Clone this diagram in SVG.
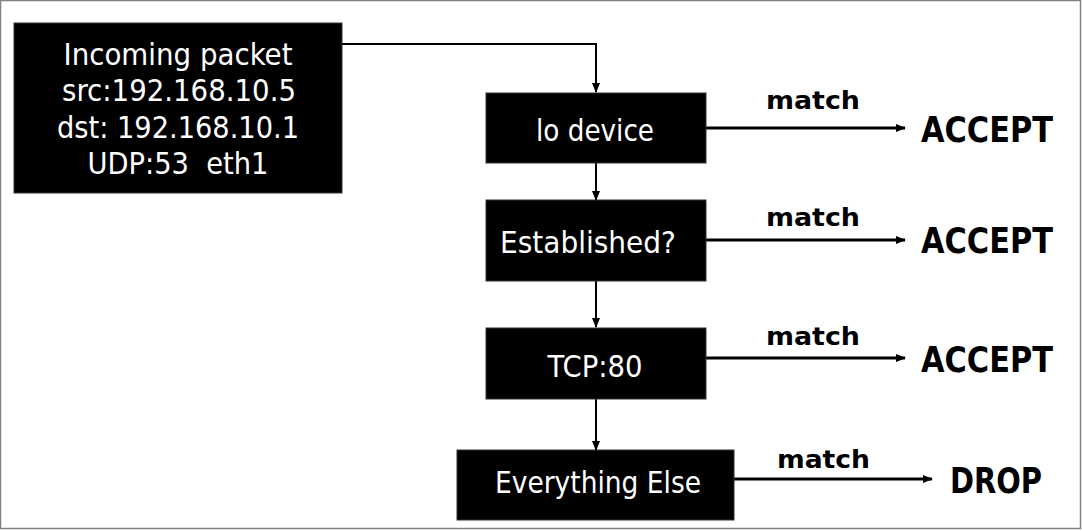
<svg xmlns="http://www.w3.org/2000/svg" width="1082" height="531" viewBox="0 0 1082 531">
<style>
.box{fill:#000;stroke:#333;stroke-width:1}
.nt{fill:#fff;font-family:"DejaVu Sans Condensed","DejaVu Sans",sans-serif;font-size:30px;text-anchor:middle}
.lbl{fill:#000;font-family:"DejaVu Sans Condensed","DejaVu Sans",sans-serif;font-weight:bold;font-size:25px}
.res{fill:#000;font-family:"DejaVu Sans Condensed","DejaVu Sans",sans-serif;font-weight:bold;font-size:35px}
.ln{fill:none;stroke:#000;stroke-width:2}
.lr{fill:none;stroke:#000;stroke-width:3}
</style>
<defs>
<marker id="ah" markerWidth="10" markerHeight="10" refX="9" refY="5" orient="auto" markerUnits="userSpaceOnUse">
<path d="M0,1 L10,5 L0,9 Z" fill="#000"/>
</marker>
</defs>
<rect x="0.5" y="0.5" width="1080" height="528" fill="#fff" stroke="#808080" stroke-width="1.5"/>
<g id="connectors">
<path class="ln" d="M342,44 H596 V92" marker-end="url(#ah)"/>
<path class="ln" d="M596,163 V200" marker-end="url(#ah)"/>
<path class="ln" d="M596,281 V327" marker-end="url(#ah)"/>
<path class="ln" d="M596,399 V450" marker-end="url(#ah)"/>
<path class="lr" d="M706,128 H905" marker-end="url(#ah)"/>
<path class="lr" d="M706,240 H905" marker-end="url(#ah)"/>
<path class="lr" d="M706,358 H905" marker-end="url(#ah)"/>
<path class="lr" d="M734,479 H932" marker-end="url(#ah)"/>
<text class="lbl" x="766" y="109" textLength="94" lengthAdjust="spacingAndGlyphs">match</text>
<text class="lbl" x="766" y="226" textLength="94" lengthAdjust="spacingAndGlyphs">match</text>
<text class="lbl" x="766" y="345" textLength="94" lengthAdjust="spacingAndGlyphs">match</text>
<text class="lbl" x="777" y="468" textLength="93" lengthAdjust="spacingAndGlyphs">match</text>
</g>
<g id="incoming">
<rect class="box" x="14" y="23" width="328" height="170"/>
<text class="nt" x="178" y="65" textLength="229" lengthAdjust="spacingAndGlyphs">Incoming packet</text>
<text class="nt" x="179" y="101" textLength="234" lengthAdjust="spacingAndGlyphs">src:192.168.10.5</text>
<text class="nt" x="178" y="138" textLength="242" lengthAdjust="spacingAndGlyphs">dst: 192.168.10.1</text>
<text class="nt" x="178" y="174" textLength="181" lengthAdjust="spacingAndGlyphs" xml:space="preserve">UDP:53  eth1</text>
</g>
<g id="lo">
<rect class="box" x="486" y="93" width="220" height="70"/>
<text class="nt" x="595" y="141" textLength="118" lengthAdjust="spacingAndGlyphs">lo device</text>
</g>
<g id="established">
<rect class="box" x="486" y="200" width="220" height="81"/>
<text class="nt" x="588" y="253" textLength="176" lengthAdjust="spacingAndGlyphs">Established?</text>
</g>
<g id="tcp">
<rect class="box" x="486" y="328" width="220" height="71"/>
<text class="nt" x="595" y="377" textLength="95" lengthAdjust="spacingAndGlyphs">TCP:80</text>
</g>
<g id="else">
<rect class="box" x="457" y="450" width="277" height="70"/>
<text class="nt" x="598" y="493" textLength="206" lengthAdjust="spacingAndGlyphs">Everything Else</text>
</g>
<g id="accept1"><text class="res" x="921" y="142" textLength="132" lengthAdjust="spacingAndGlyphs">ACCEPT</text></g>
<g id="accept2"><text class="res" x="921" y="253" textLength="132" lengthAdjust="spacingAndGlyphs">ACCEPT</text></g>
<g id="accept3"><text class="res" x="921" y="372" textLength="132" lengthAdjust="spacingAndGlyphs">ACCEPT</text></g>
<g id="drop"><text class="res" x="950" y="493" textLength="92" lengthAdjust="spacingAndGlyphs">DROP</text></g>
</svg>
